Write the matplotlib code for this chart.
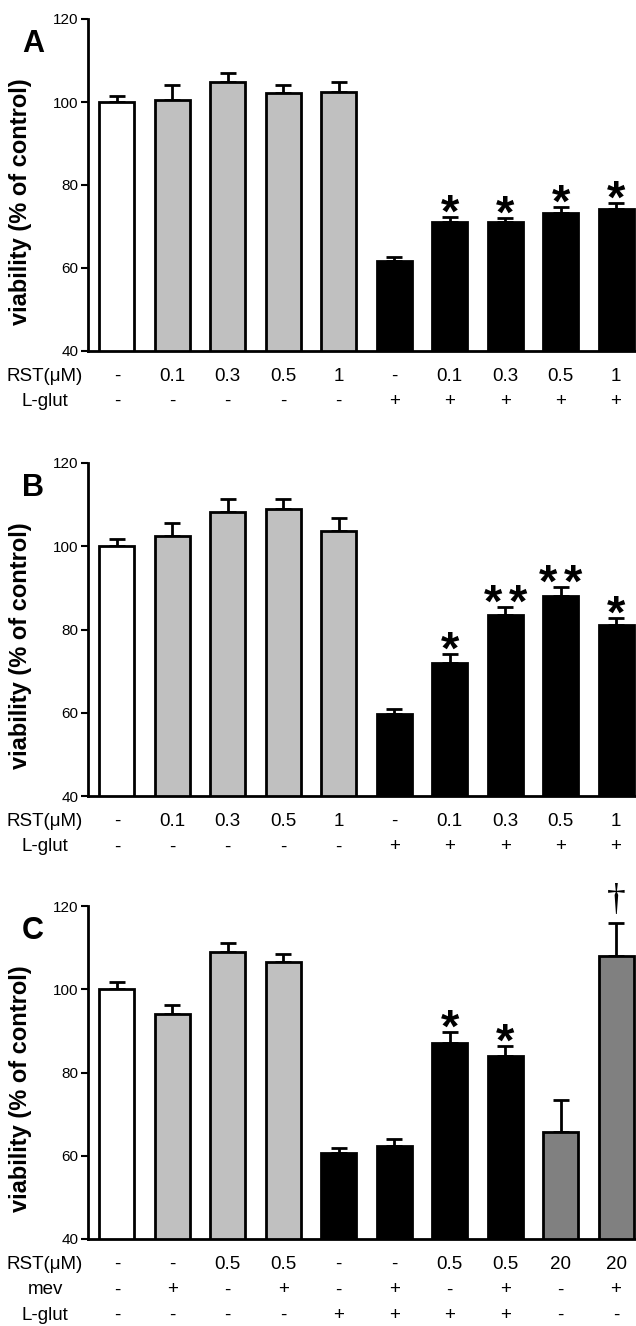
import matplotlib
matplotlib.use("Agg")
import matplotlib.pyplot as plt
import matplotlib.transforms as mtransforms

plt.rcParams['font.family'] = ['Liberation Sans', 'DejaVu Sans']

# ---- data ----
WHITE, LIGHT, BLACK, DARK = "#ffffff", "#c0c0c0", "#000000", "#808080"

a_vals = [100.0, 100.5, 104.9, 102.1, 102.5, 61.7, 71.2, 71.2, 73.3, 74.3]
a_err = [1.4, 3.6, 2.1, 2.1, 2.4, 1.0, 1.2, 0.8, 1.5, 1.3]
a_colors = [WHITE] + [LIGHT] * 4 + [BLACK] * 5
a_marks = ["", "", "", "", "", "", "*", "*", "*", "*"]
a_rows = [
    ("RST(\u03bcM)", ["-", "0.1", "0.3", "0.5", "1", "-", "0.1", "0.3", "0.5", "1"]),
    ("L-glut", ["-", "-", "-", "-", "-", "+", "+", "+", "+", "+"]),
]

b_vals = [100.0, 102.5, 108.3, 108.9, 103.7, 59.8, 72.0, 83.6, 88.1, 81.2]
b_err = [1.7, 3.2, 3.1, 2.5, 3.0, 1.0, 2.2, 1.7, 2.2, 1.6]
b_colors = [WHITE] + [LIGHT] * 4 + [BLACK] * 5
b_marks = ["", "", "", "", "", "", "*", "**", "**", "*"]
b_rows = a_rows

c_vals = [100.0, 94.0, 108.9, 106.6, 60.6, 62.4, 87.0, 84.0, 65.6, 107.9]
c_err = [1.8, 2.1, 2.1, 1.9, 1.3, 1.7, 2.7, 2.4, 7.9, 7.9]
c_colors = [WHITE] + [LIGHT] * 3 + [BLACK] * 4 + [DARK] * 2
c_marks = ["", "", "", "", "", "", "*", "*", "", "\u2020"]
c_rows = [
    ("RST(\u03bcM)", ["-", "-", "0.5", "0.5", "-", "-", "0.5", "0.5", "20", "20"]),
    ("mev", ["-", "+", "-", "+", "-", "+", "-", "+", "-", "+"]),
    ("L-glut", ["-", "-", "-", "-", "+", "+", "+", "+", "-", "-"]),
]

panels = [
    ("A", a_vals, a_err, a_colors, a_marks, a_rows),
    ("B", b_vals, b_err, b_colors, b_marks, b_rows),
    ("C", c_vals, c_err, c_colors, c_marks, c_rows),
]

W, H = 636, 1326
fig = plt.figure(figsize=(W / 100, H / 100), dpi=100)

# axes top/bottom in pixels (y of 120 and 40)
axes_px = [(19, 351), (463, 796), (906, 1239)]
left_px = 88


def star(ax, xi, y, dx=0):
    ax.annotate("*", (xi, y), xytext=(dx, -7), textcoords="offset points",
                ha="center", va="baseline", fontsize=34, fontweight="bold",
                annotation_clip=False)


for (letter, vals, err, colors, marks, rows), (top, bot) in zip(panels, axes_px):
    ax = fig.add_axes([left_px / W, (H - bot) / H, (W - left_px) / W, (bot - top) / H])
    x = list(range(len(vals)))
    ax.bar(x, vals, width=0.63, color=colors, edgecolor="black", linewidth=2,
           bottom=0, zorder=2)
    ax.errorbar(x, vals, yerr=[[0] * len(err), err], fmt="none", ecolor="black",
                elinewidth=2, capsize=6, capthick=2, zorder=1)
    ax.set_ylim(40, 120)
    ax.set_xlim(-0.52, 9.36)
    ax.set_yticks([40, 60, 80, 100, 120])
    ax.set_xticks([])
    ax.tick_params(axis="y", direction="out", length=5, width=1.5, labelsize=11, pad=2)
    for s in ["top", "right"]:
        ax.spines[s].set_visible(False)
    ax.spines["left"].set_linewidth(2)
    ax.spines["bottom"].set_linewidth(2)

    for xi, v, e, m in zip(x, vals, err, marks):
        if m == "*":
            star(ax, xi, v + e)
        elif m == "**":
            star(ax, xi, v + e, dx=-9)
            star(ax, xi, v + e, dx=9)
        elif m == "\u2020":
            ax.annotate(m, (xi, v + e), xytext=(0, 10), textcoords="offset points",
                        ha="center", va="baseline", fontsize=27,
                        family=["Liberation Serif", "DejaVu Serif"],
                        annotation_clip=False)

    ax.set_ylabel("viability (% of control)", fontsize=17, fontweight="bold")
    ax.yaxis.set_label_coords(-0.103, 0.45)

    ax.text(-0.1, 0.925, letter, transform=ax.transAxes, fontsize=22,
            fontweight="bold", ha="center", va="center")

    trans_lbl = mtransforms.blended_transform_factory(ax.transAxes, ax.transAxes)
    trans_val = mtransforms.blended_transform_factory(ax.transData, ax.transAxes)
    for r, (name, labels) in enumerate(rows):
        yy = -0.077 - r * 0.076
        ax.text((45 - left_px) / (W - left_px), yy, name, transform=trans_lbl,
                ha="center", va="center", fontsize=13.5, clip_on=False)
        for xi, lab in zip(x, labels):
            ax.text(xi, yy, lab, transform=trans_val, ha="center", va="center",
                    fontsize=13.5, clip_on=False)

fig.savefig("out.png", dpi=100)
